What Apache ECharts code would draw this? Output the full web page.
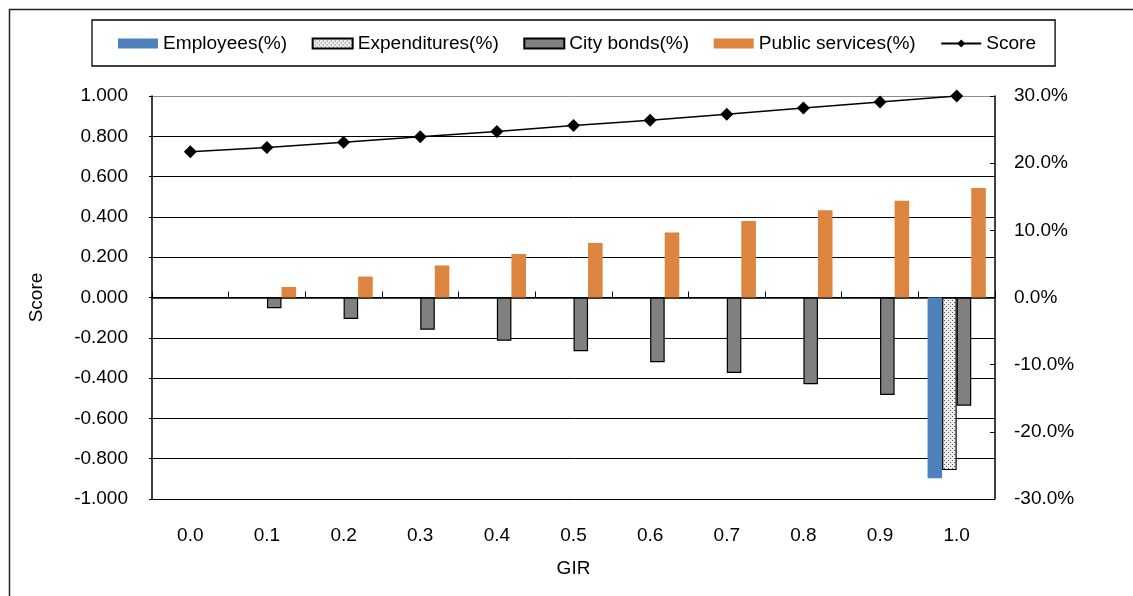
<!DOCTYPE html>
<html>
<head>
<meta charset="utf-8">
<script src="https://cdn.jsdelivr.net/npm/echarts@6/dist/echarts.min.js"></script>
<style>
html,body{margin:0;padding:0;background:#fff;}
#chart{width:1133px;height:596px;}
</style>
</head>
<body>
<div id="chart"></div>
<script>
// ---- data ----
const categories = ['0.0','0.1','0.2','0.3','0.4','0.5','0.6','0.7','0.8','0.9','1.0'];
const employees = [0,0,0,0,0,0,0,0,0,0,-26.9];          // %
const expenditures = [0,0,0,0,0,0,0,0,0,0,-25.7];       // %
const cityBonds = [0,-1.6,-3.2,-4.8,-6.45,-8.0,-9.65,-11.25,-12.9,-14.5,-16.1]; // %
const publicServices = [0,1.56,3.12,4.77,6.48,8.13,9.69,11.4,13.0,14.4,16.3];  // %
const score = [0.723,0.745,0.771,0.798,0.824,0.854,0.880,0.910,0.940,0.970,1.000];
const leftTicks = {min:-1, max:1, interval:0.2};
const rightTicks = {min:-30, max:30, interval:10};

// ---- stipple pattern for Expenditures ----
const pc = document.createElement('canvas');
pc.width = 4; pc.height = 4;
const pctx = pc.getContext('2d');
pctx.fillStyle = '#eeeeee'; pctx.fillRect(0,0,4,4);
pctx.fillStyle = '#555555';
pctx.fillRect(0,0,1,1); pctx.fillRect(2,2,1,1);

const FONT = "'Liberation Sans', Arial, sans-serif";
const FS = 19;

const chart = echarts.init(document.getElementById('chart'), null, {renderer:'canvas'});
const gridColors = [];
for (let i = 0; i < 11; i++) gridColors.push(i === 10 ? '#8c8c8c' : '#000');

chart.setOption({
  animation: false,
  backgroundColor: '#fff',
  textStyle: {fontFamily: FONT, color: '#000'},
  graphic: [{
    type: 'rect', left: 7, top: 7, z: 100,
    shape: {width: 1300, height: 800},
    style: {fill: 'none', stroke: '#222', lineWidth: 1.5}
  }],
  legend: {
    left: 92, top: 20,
    padding: [14, 19, 13, 26],
    borderColor: '#000', borderWidth: 1.3,
    itemWidth: 40, itemHeight: 10, itemGap: 24.5,
    textStyle: {fontFamily: FONT, fontSize: 19.1, color: '#000'},
    data: [
      {name: 'Employees(%)', icon: 'rect'},
      {name: 'Expenditures(%)', icon: 'rect'},
      {name: 'City bonds(%)', icon: 'rect'},
      {name: 'Public services(%)', icon: 'rect'},
      {name: 'Score'}
    ]
  },
  grid: {left: 152, right: 138, top: 96, bottom: 97, containLabel: false},
  xAxis: {
    type: 'category',
    data: categories,
    boundaryGap: true,
    name: 'GIR', nameLocation: 'middle', nameGap: 60,
    nameTextStyle: {fontFamily: FONT, fontSize: FS, color: '#000'},
    axisLine: {lineStyle: {color: '#000', width: 1.5}},
    axisTick: {show: true, inside: true, length: 6, interval: 0, lineStyle: {color: '#000', width: 1}},
    axisLabel: {fontFamily: FONT, fontSize: FS, color: '#000', margin: 27, interval: 0}
  },
  yAxis: [{
    type: 'value',
    min: leftTicks.min, max: leftTicks.max, interval: leftTicks.interval,
    name: 'Score', nameLocation: 'middle', nameGap: 106, nameRotate: 90,
    nameTextStyle: {fontFamily: FONT, fontSize: FS, color: '#000'},
    axisLine: {show: true, lineStyle: {color: '#000', width: 1.5}},
    axisTick: {show: true, length: 3, lineStyle: {color: '#000'}},
    splitLine: {show: true, lineStyle: {color: gridColors, width: 1}},
    axisLabel: {fontFamily: FONT, fontSize: FS, color: '#000', margin: 24,
      formatter: v => v.toFixed(3)}
  }, {
    type: 'value',
    min: rightTicks.min, max: rightTicks.max, interval: rightTicks.interval,
    position: 'right',
    axisLine: {show: true, lineStyle: {color: '#000', width: 1.5}},
    axisTick: {show: true, inside: true, length: 5, lineStyle: {color: '#000'}},
    splitLine: {show: false},
    axisLabel: {fontFamily: FONT, fontSize: FS, color: '#000', margin: 19,
      formatter: v => v.toFixed(1) + '%'}
  }],
  series: [{
    name: 'Employees(%)', type: 'bar', yAxisIndex: 1, data: employees,
    barGap: '0%', barCategoryGap: '24%',
    itemStyle: {color: '#4F81BD'}
  }, {
    name: 'Expenditures(%)', type: 'bar', yAxisIndex: 1, data: expenditures,
    barGap: '0%', barCategoryGap: '24%',
    itemStyle: {color: {image: pc, repeat: 'repeat'}, borderColor: '#000', borderWidth: 1.2}
  }, {
    name: 'City bonds(%)', type: 'bar', yAxisIndex: 1, data: cityBonds,
    barGap: '0%', barCategoryGap: '24%',
    itemStyle: {color: '#808080', borderColor: '#000', borderWidth: 1.2}
  }, {
    name: 'Public services(%)', type: 'bar', yAxisIndex: 1, data: publicServices,
    barGap: '0%', barCategoryGap: '24%',
    itemStyle: {color: '#DD843E'}
  }, {
    name: 'Score', type: 'line', yAxisIndex: 0, data: score, z: 10,
    symbol: 'diamond', symbolSize: 13,
    lineStyle: {color: '#000', width: 1.5},
    itemStyle: {color: '#000'}
  }]
});
</script>
</body>
</html>
